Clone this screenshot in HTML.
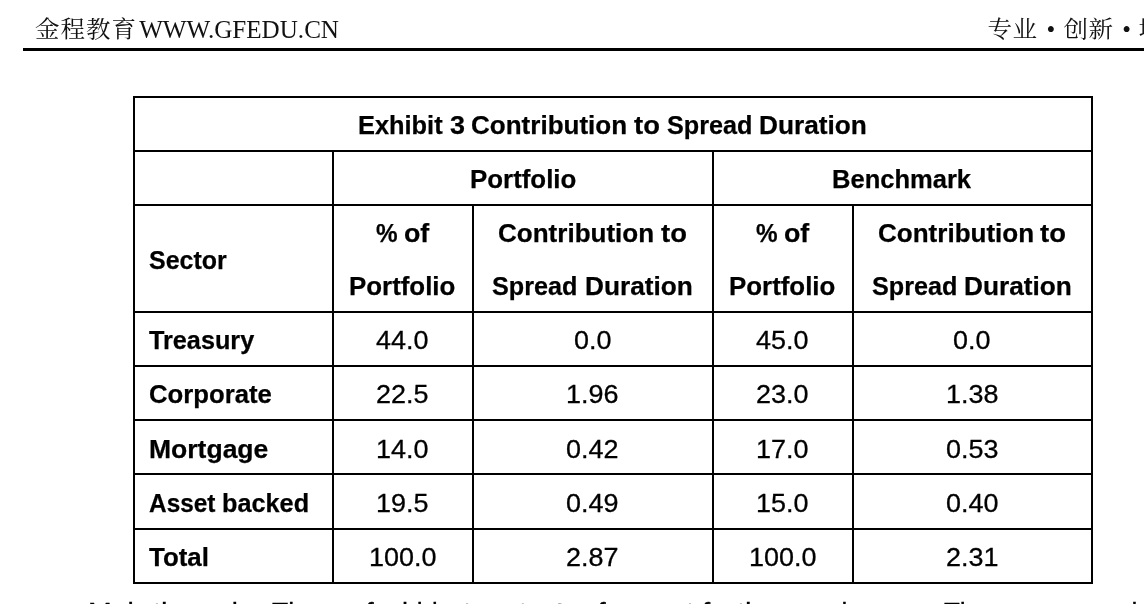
<!DOCTYPE html>
<html lang="zh"><head><meta charset="utf-8"><title>Exhibit 3 Contribution to Spread Duration</title>
<style>
html,body{margin:0;padding:0;background:#fff;}
body{width:1144px;height:604px;overflow:hidden;position:relative;color:#000;font-family:"Liberation Sans",sans-serif;}
.t{position:absolute;white-space:nowrap;font-size:26.7px;line-height:30px;height:30px;transform-origin:0 0;color:#000;-webkit-text-stroke:0.3px #000;}
.b{font-weight:bold;font-size:26.4px;-webkit-text-stroke:0.25px #000;}
.v,.h{position:absolute;background:#000;}
.hd{position:absolute;white-space:nowrap;font-family:"Liberation Serif","Noto Serif CJK SC",serif;font-size:25px;line-height:30px;color:#111;}
</style></head><body>
<div class="hd" style="left:34.9px;top:14.1px;font-size:24.5px;letter-spacing:1px;transform:scaleY(0.95);">金程教育</div>
<div class="hd" style="left:139.2px;top:15.1px;font-size:25.1px;">WWW.GFEDU.CN</div>
<div class="hd" style="left:987.4px;top:14.6px;font-size:24.6px;letter-spacing:0.6px;transform:scaleY(0.93);">专业</div>
<div class="hd" style="left:1046.4px;top:14.6px;">•</div>
<div class="hd" style="left:1063.4px;top:14.6px;font-size:24.6px;letter-spacing:0.6px;transform:scaleY(0.93);">创新</div>
<div class="hd" style="left:1122.3px;top:14.6px;">•</div>
<div class="hd" style="left:1138.4px;top:14.6px;font-size:24.6px;letter-spacing:0.6px;transform:scaleY(0.93);">增值</div>
<div class="h" style="left:23px;top:48px;width:1121px;height:3px;"></div>
<div class="h" style="left:133px;top:96px;width:960px;height:2px;"></div>
<div class="h" style="left:133px;top:150px;width:960px;height:2px;"></div>
<div class="h" style="left:133px;top:204px;width:960px;height:2px;"></div>
<div class="h" style="left:133px;top:311px;width:960px;height:2px;"></div>
<div class="h" style="left:133px;top:365px;width:960px;height:2px;"></div>
<div class="h" style="left:133px;top:419px;width:960px;height:2px;"></div>
<div class="h" style="left:133px;top:473px;width:960px;height:2px;"></div>
<div class="h" style="left:133px;top:528px;width:960px;height:2px;"></div>
<div class="h" style="left:133px;top:582px;width:960px;height:2px;"></div>
<div class="v" style="left:133px;top:96px;width:2px;height:488px;"></div>
<div class="v" style="left:1091px;top:96px;width:2px;height:488px;"></div>
<div class="v" style="left:332px;top:150px;width:2px;height:434px;"></div>
<div class="v" style="left:712px;top:150px;width:2px;height:434px;"></div>
<div class="v" style="left:472px;top:204px;width:2px;height:380px;"></div>
<div class="v" style="left:852px;top:204px;width:2px;height:380px;"></div>
<div class="t b" style="left:358.47px;top:110.00px;transform:scaleX(0.9617);">Exhibit</div>
<div class="t b" style="left:449.78px;top:110.00px;transform:scaleX(1.0214);">3</div>
<div class="t b" style="left:471.47px;top:110.00px;transform:scaleX(0.9864);">Contribution</div>
<div class="t b" style="left:634.31px;top:110.00px;transform:scaleX(1.0387);">to</div>
<div class="t b" style="left:666.89px;top:110.00px;transform:scaleX(0.9552);">Spread</div>
<div class="t b" style="left:759.04px;top:110.00px;transform:scaleX(0.9943);">Duration</div>
<div class="t b" style="left:470.02px;top:164.00px;transform:scaleX(0.9805);">Portfolio</div>
<div class="t b" style="left:832.36px;top:164.00px;transform:scaleX(0.9675);">Benchmark</div>
<div class="t b" style="left:148.50px;top:245.00px;transform:scaleX(0.9458);">Sector</div>
<div class="t b" style="left:375.62px;top:218.00px;transform:scaleX(0.9195);">%</div>
<div class="t b" style="left:403.90px;top:218.00px;transform:scaleX(1.0143);">of</div>
<div class="t b" style="left:349.22px;top:271.00px;transform:scaleX(0.9805);">Portfolio</div>
<div class="t b" style="left:498.04px;top:218.00px;transform:scaleX(0.9864);">Contribution</div>
<div class="t b" style="left:660.87px;top:218.00px;transform:scaleX(1.0387);">to</div>
<div class="t b" style="left:492.38px;top:271.00px;transform:scaleX(0.9552);">Spread</div>
<div class="t b" style="left:584.54px;top:271.00px;transform:scaleX(0.9943);">Duration</div>
<div class="t b" style="left:755.62px;top:218.00px;transform:scaleX(0.9195);">%</div>
<div class="t b" style="left:783.90px;top:218.00px;transform:scaleX(1.0143);">of</div>
<div class="t b" style="left:729.22px;top:271.00px;transform:scaleX(0.9805);">Portfolio</div>
<div class="t b" style="left:877.54px;top:218.00px;transform:scaleX(0.9864);">Contribution</div>
<div class="t b" style="left:1040.37px;top:218.00px;transform:scaleX(1.0387);">to</div>
<div class="t b" style="left:871.88px;top:271.00px;transform:scaleX(0.9552);">Spread</div>
<div class="t b" style="left:964.04px;top:271.00px;transform:scaleX(0.9943);">Duration</div>
<div class="t b" style="left:148.50px;top:325.00px;transform:scaleX(0.9560);">Treasury</div>
<div class="t" style="left:376.16px;top:325.00px;transform:scaleX(1.0101);">44.0</div>
<div class="t" style="left:573.66px;top:325.00px;transform:scaleX(1.0099);">0.0</div>
<div class="t" style="left:756.16px;top:325.00px;transform:scaleX(1.0101);">45.0</div>
<div class="t" style="left:953.16px;top:325.00px;transform:scaleX(1.0099);">0.0</div>
<div class="t b" style="left:148.50px;top:379.00px;transform:scaleX(0.9747);">Corporate</div>
<div class="t" style="left:376.16px;top:379.00px;transform:scaleX(1.0101);">22.5</div>
<div class="t" style="left:566.16px;top:379.00px;transform:scaleX(1.0101);">1.96</div>
<div class="t" style="left:756.16px;top:379.00px;transform:scaleX(1.0101);">23.0</div>
<div class="t" style="left:945.66px;top:379.00px;transform:scaleX(1.0101);">1.38</div>
<div class="t b" style="left:148.50px;top:434.00px;transform:scaleX(1.0047);">Mortgage</div>
<div class="t" style="left:376.16px;top:434.00px;transform:scaleX(1.0101);">14.0</div>
<div class="t" style="left:566.16px;top:434.00px;transform:scaleX(1.0101);">0.42</div>
<div class="t" style="left:756.16px;top:434.00px;transform:scaleX(1.0101);">17.0</div>
<div class="t" style="left:945.66px;top:434.00px;transform:scaleX(1.0101);">0.53</div>
<div class="t b" style="left:148.50px;top:488.00px;transform:scaleX(0.9252);">Asset</div>
<div class="t b" style="left:221.71px;top:488.00px;transform:scaleX(0.9573);">backed</div>
<div class="t" style="left:376.16px;top:488.00px;transform:scaleX(1.0101);">19.5</div>
<div class="t" style="left:566.16px;top:488.00px;transform:scaleX(1.0101);">0.49</div>
<div class="t" style="left:756.16px;top:488.00px;transform:scaleX(1.0101);">15.0</div>
<div class="t" style="left:945.66px;top:488.00px;transform:scaleX(1.0101);">0.40</div>
<div class="t b" style="left:148.50px;top:542.00px;transform:scaleX(0.9799);">Total</div>
<div class="t" style="left:368.66px;top:542.00px;transform:scaleX(1.0103);">100.0</div>
<div class="t" style="left:566.16px;top:542.00px;transform:scaleX(1.0101);">2.87</div>
<div class="t" style="left:748.66px;top:542.00px;transform:scaleX(1.0103);">100.0</div>
<div class="t" style="left:945.66px;top:542.00px;transform:scaleX(1.0101);">2.31</div>
<div class="t" style="left:88.00px;top:597.00px;transform:scaleX(1.0687);">Main</div>
<div class="t" style="left:153.00px;top:597.00px;transform:scaleX(1.0831);">the</div>
<div class="t" style="left:192.20px;top:597.00px;transform:scaleX(1.0314);">real:</div>
<div class="t" style="left:272.00px;top:597.00px;transform:scaleX(0.9949);">There</div>
<div class="t" style="left:349.00px;top:597.00px;transform:scaleX(1.1068);">of</div>
<div class="t" style="left:401.50px;top:597.00px;transform:scaleX(0.9941);">his</div>
<div class="t" style="left:431.50px;top:597.00px;transform:scaleX(0.9528);">is</div>
<div class="t" style="left:462.50px;top:597.00px;transform:scaleX(1.1334);">to</div>
<div class="t" style="left:518.50px;top:597.00px;transform:scaleX(1.0574);">test</div>
<div class="t" style="left:555.00px;top:597.00px;transform:scaleX(1.1334);">to</div>
<div class="t" style="left:581.00px;top:597.00px;transform:scaleX(1.1068);">of</div>
<div class="t" style="left:600.00px;top:597.00px;transform:scaleX(1.0580);">amount</div>
<div class="t" style="left:701.50px;top:597.00px;transform:scaleX(1.1022);">for</div>
<div class="t" style="left:736.50px;top:597.00px;transform:scaleX(1.0831);">the</div>
<div class="t" style="left:811.50px;top:597.00px;transform:scaleX(0.9914);">gain.</div>
<div class="t" style="left:943.50px;top:597.00px;transform:scaleX(0.9718);">The</div>
<div class="t" style="left:1086.50px;top:597.00px;transform:scaleX(0.9969);">goal</div>
</body></html>
